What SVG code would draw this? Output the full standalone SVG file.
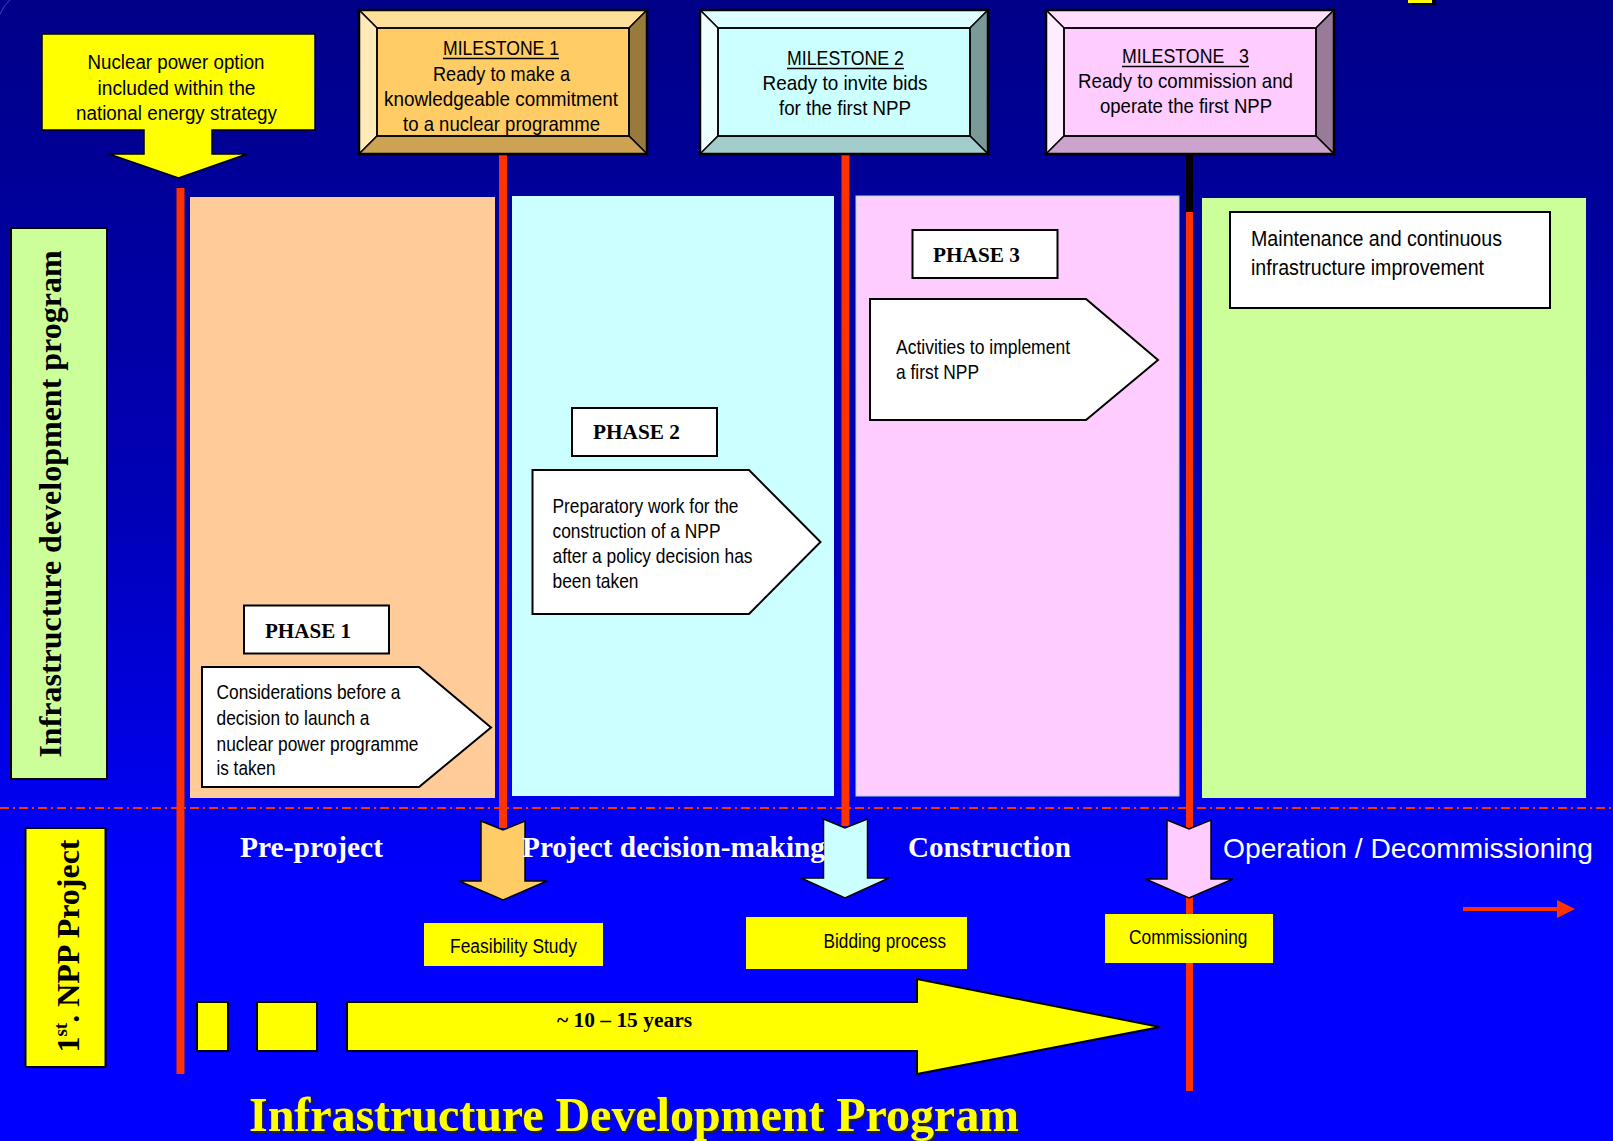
<svg xmlns="http://www.w3.org/2000/svg" width="1613" height="1141" viewBox="0 0 1613 1141">
<defs>
<linearGradient id="bg" x1="0" y1="0" x2="0" y2="1">
<stop offset="0" stop-color="#000088"/>
<stop offset="0.45" stop-color="#0000B8"/>
<stop offset="0.7" stop-color="#0000EE"/>
<stop offset="0.78" stop-color="#0000FF"/>
<stop offset="1" stop-color="#0000FF"/>
</linearGradient>
<filter id="shadow" x="-5%" y="-20%" width="110%" height="140%">
<feDropShadow dx="2" dy="2" stdDeviation="0.3" flood-color="#202020" flood-opacity="1"/>
</filter>
</defs>
<style>
.n{font-family:"Liberation Sans Narrow","Arial Narrow","Liberation Sans",Arial,sans-serif;fill:#000;}
.s{font-family:"Liberation Serif","Times New Roman",serif;font-weight:bold;}
.c{text-anchor:middle;}
.red{stroke:#FF3300;stroke-width:8;fill:none;}
.box{stroke:#000;stroke-width:2;}
.bev{stroke:#000;stroke-width:1.5;stroke-linejoin:miter;}
.ms{font-size:21px;}
.ph{font-size:21px;}
.pl{font-size:22px;fill:#000;}
.sec{font-size:29px;fill:#FFFFFF;}
</style>
<rect x="0" y="0" width="1613" height="1141" fill="url(#bg)"/>
<path d="M0,14 Q4,5 10,0" stroke="#3344DD" stroke-width="1" fill="none"/>
<g id="corner-mark">
<rect x="1412" y="-4" width="24" height="9" fill="#000"/>
<rect x="1408" y="-6" width="24" height="9" fill="#FFFF00"/>
</g>

<!-- phase panels -->
<g id="panel-phase1"><rect x="190" y="197" width="305" height="601" fill="#FFCC99"/></g>
<g id="panel-phase2"><rect x="512" y="196" width="322" height="600" fill="#CCFFFF"/></g>
<g id="panel-phase3"><rect x="856" y="196" width="323" height="600" fill="#FFCCFF" stroke="#AADDBB" stroke-width="1"/></g>
<g id="panel-operation"><rect x="1202" y="198" width="384" height="600" fill="#CCFF99"/></g>

<!-- dash-dot separator -->
<line x1="0" y1="808" x2="1613" y2="808" stroke="#FF3300" stroke-width="2" stroke-dasharray="9 4 2 4"/>

<!-- connectors -->
<g id="connectors">
<line class="red" x1="180.5" y1="188" x2="180.5" y2="1074"/>
<line class="red" x1="503" y1="155" x2="503" y2="828"/>
<line class="red" x1="845.5" y1="155" x2="845.5" y2="826"/>
<line x1="1189.5" y1="155" x2="1189.5" y2="212" stroke="#000" stroke-width="7"/>
<line x1="1189.5" y1="212" x2="1189.5" y2="1091" stroke="#FF3300" stroke-width="7"/>
<path d="M481,821 L503,830 L525,821 V881 H547 L503,900 L459,881 H481 Z" fill="#FFCC66" stroke="#000" stroke-width="1.5"/>
<path d="M823.5,819 L845,828 L867.5,819 V878 H889 L845,898 L801,878 H823.5 Z" fill="#CCFFFF" stroke="#000" stroke-width="1.5"/>
<path d="M1167,820 L1189,829 L1211,820 V879 H1233 L1189,898 L1145.5,879 H1167 Z" fill="#FFCCFF" stroke="#000" stroke-width="1.5"/>
<line x1="1463" y1="909" x2="1560" y2="909" stroke="#FF3300" stroke-width="4"/>
<polygon points="1557,900 1575,909 1557,918" fill="#FF3300"/>
</g>

<!-- callout -->
<g id="nuclear-option">
<path d="M42,34 H315 V130 H212 V154 H247 L178.5,178 L109,154 H144 V130 H42 Z" fill="#FFFF00" stroke="#000" stroke-width="1.5"/>
<text class="n c" font-size="20" x="176" y="69" textLength="177" lengthAdjust="spacingAndGlyphs">Nuclear power option</text>
<text class="n c" font-size="20" x="176.5" y="95" textLength="158" lengthAdjust="spacingAndGlyphs">included within the</text>
<text class="n c" font-size="20" x="176.5" y="120" textLength="201" lengthAdjust="spacingAndGlyphs">national energy strategy</text>
</g>

<!-- milestones -->
<g id="milestone1">
<rect x="377" y="28" width="252" height="108" fill="#FFCC66"/>
<polygon class="bev" points="359,10 647,10 629,28 377,28" fill="#FFE09A"/>
<polygon class="bev" points="359,10 377,28 377,136 359,154" fill="#FFE9B8"/>
<polygon class="bev" points="647,10 647,154 629,136 629,28" fill="#997A3D"/>
<polygon class="bev" points="359,154 647,154 629,136 377,136" fill="#CCA352"/>
<rect x="377" y="28" width="252" height="108" fill="none" stroke="#000" stroke-width="1.5"/>
<rect x="359" y="10" width="288" height="144" fill="none" stroke="#000" stroke-width="2.5"/>
<text class="n c ms" x="501" y="55" textLength="116" lengthAdjust="spacingAndGlyphs">MILESTONE 1</text>
<line x1="443" y1="58.5" x2="559" y2="58.5" stroke="#000" stroke-width="1.5"/>
<text class="n c ms" x="501.5" y="81" textLength="137" lengthAdjust="spacingAndGlyphs">Ready to make a</text>
<text class="n c ms" x="501" y="106" textLength="234" lengthAdjust="spacingAndGlyphs">knowledgeable commitment</text>
<text class="n c ms" x="501.5" y="130.5" textLength="197" lengthAdjust="spacingAndGlyphs">to a nuclear programme</text>
</g>
<g id="milestone2">
<rect x="718" y="28" width="252" height="108" fill="#CCFFFF"/>
<polygon class="bev" points="700,10 988,10 970,28 718,28" fill="#DDFFFF"/>
<polygon class="bev" points="700,10 718,28 718,136 700,154" fill="#EEFFFF"/>
<polygon class="bev" points="988,10 988,154 970,136 970,28" fill="#7A9999"/>
<polygon class="bev" points="700,154 988,154 970,136 718,136" fill="#A3CCCC"/>
<rect x="718" y="28" width="252" height="108" fill="none" stroke="#000" stroke-width="1.5"/>
<rect x="700" y="10" width="288" height="144" fill="none" stroke="#000" stroke-width="2.5"/>
<text class="n c ms" x="845.5" y="65" textLength="117" lengthAdjust="spacingAndGlyphs">MILESTONE 2</text>
<line x1="787" y1="68.5" x2="904" y2="68.5" stroke="#000" stroke-width="1.5"/>
<text class="n c ms" x="845" y="90" textLength="165" lengthAdjust="spacingAndGlyphs">Ready to invite bids</text>
<text class="n c ms" x="845" y="115" textLength="132" lengthAdjust="spacingAndGlyphs">for the first NPP</text>
</g>
<g id="milestone3">
<rect x="1064" y="28" width="252" height="108" fill="#FFCCFF"/>
<polygon class="bev" points="1046,10 1334,10 1316,28 1064,28" fill="#FFDDFF"/>
<polygon class="bev" points="1046,10 1064,28 1064,136 1046,154" fill="#FFEEFF"/>
<polygon class="bev" points="1334,10 1334,154 1316,136 1316,28" fill="#997A99"/>
<polygon class="bev" points="1046,154 1334,154 1316,136 1064,136" fill="#CCA3CC"/>
<rect x="1064" y="28" width="252" height="108" fill="none" stroke="#000" stroke-width="1.5"/>
<rect x="1046" y="10" width="288" height="144" fill="none" stroke="#000" stroke-width="2.5"/>
<text class="n c ms" x="1185.5" y="63" textLength="127" lengthAdjust="spacingAndGlyphs" style="white-space:pre">MILESTONE   3</text>
<line x1="1122" y1="66.5" x2="1249" y2="66.5" stroke="#000" stroke-width="1.5"/>
<text class="n c ms" x="1185.5" y="88" textLength="215" lengthAdjust="spacingAndGlyphs">Ready to commission and</text>
<text class="n c ms" x="1186" y="113" textLength="172" lengthAdjust="spacingAndGlyphs">operate the first NPP</text>
</g>

<!-- left labels -->
<g id="label-infrastructure">
<rect x="11" y="228" width="96" height="551" fill="#CCFF99" stroke="#000" stroke-width="2"/>
<text class="s c" font-size="32" fill="#000" transform="translate(61,504) rotate(-90)">Infrastructure development program</text>
</g>
<g id="label-npp">
<rect x="25.5" y="828" width="80" height="239" fill="#FFFF00" stroke="#000" stroke-width="2"/>
<text class="s c" font-size="32" fill="#000" transform="translate(79,946) rotate(-90)">1<tspan font-size="19" dy="-12">st</tspan><tspan dy="12">. NPP Project</tspan></text>
</g>

<!-- phase 1 -->
<g id="phase1">
<rect class="box" x="244" y="605.5" width="145" height="48" fill="#FFFFFF"/>
<text class="s pl" x="265" y="637.5" textLength="86" lengthAdjust="spacingAndGlyphs">PHASE 1</text>
<path class="box" d="M202,667 H419 L491,727.5 L419,787 H202 Z" fill="#FFFFFF"/>
<text class="n ph" x="216.5" y="699" textLength="184" lengthAdjust="spacingAndGlyphs">Considerations before a</text>
<text class="n ph" x="216.5" y="725" textLength="153" lengthAdjust="spacingAndGlyphs">decision to launch a</text>
<text class="n ph" x="216.5" y="750.5" textLength="202" lengthAdjust="spacingAndGlyphs">nuclear power programme</text>
<text class="n ph" x="216.5" y="775" textLength="59" lengthAdjust="spacingAndGlyphs">is taken</text>
</g>

<!-- phase 2 -->
<g id="phase2">
<rect class="box" x="572" y="408" width="145" height="48" fill="#FFFFFF"/>
<text class="s pl" x="593" y="439" textLength="87" lengthAdjust="spacingAndGlyphs">PHASE 2</text>
<path class="box" d="M532.5,470 H749 L820.5,542 L749,614 H532.5 Z" fill="#FFFFFF"/>
<text class="n ph" x="552.5" y="512.5" textLength="186" lengthAdjust="spacingAndGlyphs">Preparatory work for the</text>
<text class="n ph" x="552.5" y="537.5" textLength="168" lengthAdjust="spacingAndGlyphs">construction of a NPP</text>
<text class="n ph" x="552.5" y="563" textLength="200" lengthAdjust="spacingAndGlyphs">after a policy decision has</text>
<text class="n ph" x="552.5" y="588" textLength="86" lengthAdjust="spacingAndGlyphs">been taken</text>
</g>

<!-- phase 3 -->
<g id="phase3">
<rect class="box" x="912.5" y="230" width="145" height="48" fill="#FFFFFF"/>
<text class="s pl" x="933" y="261.5" textLength="87" lengthAdjust="spacingAndGlyphs">PHASE 3</text>
<path class="box" d="M870,299 H1086 L1158,360 L1086,420 H870 Z" fill="#FFFFFF"/>
<text class="n ph" x="896" y="354" textLength="174" lengthAdjust="spacingAndGlyphs">Activities to implement</text>
<text class="n ph" x="896" y="379" textLength="83" lengthAdjust="spacingAndGlyphs">a first NPP</text>
</g>

<!-- operation -->
<g id="maintenance">
<rect class="box" x="1230" y="212" width="320" height="96" fill="#FFFFFF"/>
<text class="n" font-size="22" x="1251" y="246" textLength="251" lengthAdjust="spacingAndGlyphs">Maintenance and continuous</text>
<text class="n" font-size="22" x="1251" y="275" textLength="233" lengthAdjust="spacingAndGlyphs">infrastructure improvement</text>
</g>

<!-- section labels -->
<g id="section-labels">
<text class="s sec" x="240" y="857" textLength="143" lengthAdjust="spacingAndGlyphs">Pre-project</text>
<text class="s sec" x="522" y="857" textLength="303" lengthAdjust="spacingAndGlyphs">Project decision-making</text>
<text class="s sec" x="908" y="857" textLength="163" lengthAdjust="spacingAndGlyphs">Construction</text>
<text class="n" font-size="28" style="fill:#FFFFFF" x="1223" y="858" textLength="370" lengthAdjust="spacingAndGlyphs">Operation / Decommissioning</text>
</g>

<!-- yellow labels -->
<g id="feasibility">
<rect x="424" y="923" width="179" height="43" fill="#FFFF00"/>
<text class="n" font-size="20" x="450" y="953" textLength="127" lengthAdjust="spacingAndGlyphs">Feasibility Study</text>
</g>
<g id="bidding">
<rect x="746" y="917" width="221" height="52" fill="#FFFF00"/>
<text class="n" font-size="21" x="823.5" y="948" textLength="122.5" lengthAdjust="spacingAndGlyphs">Bidding process</text>
</g>
<g id="commissioning">
<rect x="1105" y="914" width="168" height="49" fill="#FFFF00"/>
<text class="n" font-size="21" x="1129" y="944" textLength="118.5" lengthAdjust="spacingAndGlyphs">Commissioning</text>
</g>

<!-- timeline -->
<g id="timeline">
<rect x="197" y="1002" width="31" height="49" fill="#FFFF00" stroke="#000" stroke-width="2"/>
<rect x="257" y="1002" width="60" height="49" fill="#FFFF00" stroke="#000" stroke-width="2"/>
<path d="M347,1002 H917 V979 L1160,1027 L917,1074 V1051 H347 Z" fill="#FFFF00" stroke="#000" stroke-width="2"/>
<text class="s" font-size="20" fill="#000" x="557" y="1027" textLength="135" lengthAdjust="spacingAndGlyphs">~ 10 – 15 years</text>
</g>

<g id="title">
<text class="s" font-size="48" fill="#FFFF00" filter="url(#shadow)" x="249" y="1131" textLength="770" lengthAdjust="spacingAndGlyphs">Infrastructure Development Program</text>
</g>
</svg>
